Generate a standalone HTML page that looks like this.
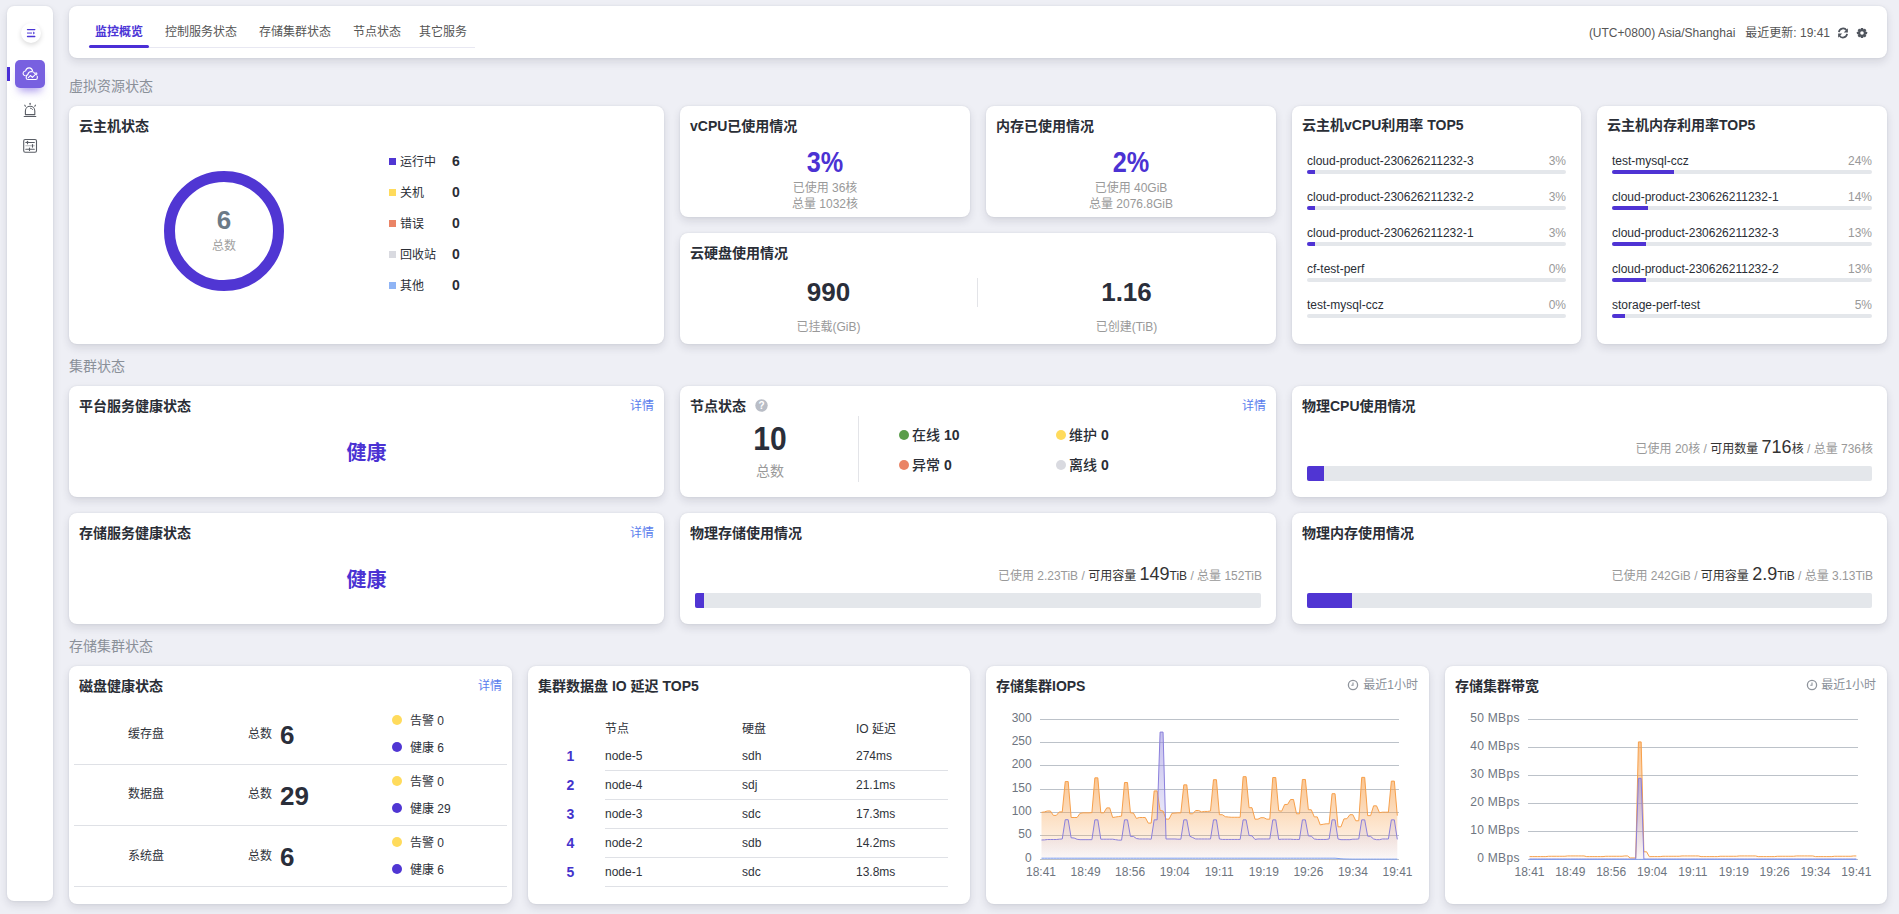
<!DOCTYPE html>
<html lang="zh-CN">
<head>
<meta charset="utf-8">
<title>监控概览</title>
<style>
*{box-sizing:border-box;margin:0;padding:0}
html,body{width:1899px;height:914px;overflow:hidden}
body{background:#eeeff5;font-family:"Liberation Sans","Noto Sans CJK SC",sans-serif;color:#2a2e36;position:relative;font-size:12px}
.abs{position:absolute}
.card{position:absolute;background:#fff;border-radius:8px;box-shadow:0 0 2px rgba(30,35,55,.10),0 4px 8px rgba(30,35,55,.12)}
.ct{position:absolute;left:10px;top:11px;font-size:14px;line-height:18px;font-weight:bold;color:#2a2e36;white-space:nowrap}
.sec{position:absolute;left:69px;font-size:14px;line-height:18px;color:#8a9099;white-space:nowrap}
.more{position:absolute;right:10px;top:12px;font-size:12px;line-height:16px;color:#5a7ded}
.cen{text-align:center}
.g{color:#999}

.lg{left:320px;height:16px;font-size:12px;line-height:16px;color:#2a2e36;white-space:nowrap}
.lg i{position:absolute;left:0;top:4px;width:7px;height:7px}
.lg{padding-left:11px}
.lg b{position:absolute;left:63px;top:-1px;font-size:14px}
.pct{left:0;width:100%;top:40px;font-size:29px;line-height:32px;font-weight:bold;color:#4b32d3;transform:scaleX(.87)}
.sub{left:0;width:100%;font-size:12px;line-height:16px;color:#999;white-space:nowrap}
.big{top:44px;font-size:26px;line-height:30px;font-weight:bold;color:#2a2e3a}
.trow{left:15px;right:15px;height:16px;font-size:12px;line-height:16px;color:#2a2e36;white-space:nowrap}
.trow em{position:absolute;right:0;top:0;font-style:normal;color:#999}
.tbar{left:15px;right:15px;height:4px;border-radius:2px;background:#e4e7eb;overflow:hidden}
.tbar i{display:block;height:4px;background:#4f33d4}

.ok{left:0;width:100%;top:55px;font-size:20px;line-height:24px;font-weight:bold;color:#4b32d3}
.ns{height:18px;font-family:"Liberation Sans","Noto Sans CJK SC Medium","Noto Sans CJK SC",sans-serif;font-size:14px;line-height:18px;color:#2a2e36;white-space:nowrap;padding-left:13px}
.ns i{position:absolute;left:0;top:4px;width:10px;height:10px;border-radius:50%}
.ns b{font-weight:bold;font-size:14px}
.use{right:14px;top:50px;font-size:12px;line-height:22px;color:#333;white-space:nowrap}
.use .bn{font-size:18px}
.pbar{left:15px;right:15px;top:80px;height:15px;border-radius:2px;background:#e4e7eb;overflow:hidden}
.pbar i{display:block;height:15px;background:#5035d3}

.dk{font-size:12px;line-height:16px;color:#2f333b;white-space:nowrap}
.dkn{font-size:26px;line-height:30px;font-weight:bold;color:#2a2e3a}
.dd{font-size:12px;line-height:16px;color:#2f333b;white-space:nowrap;padding-left:18px}
.dd i{position:absolute;left:0;top:2px;width:10px;height:10px;border-radius:50%}
.io{font-size:12px;line-height:16px;color:#2f333b;white-space:nowrap}
.rk{left:30px;width:25px;text-align:center;font-size:14px;line-height:16px;font-weight:bold;color:#4433cc}
.recent{right:11px;top:11px;font-size:12px;line-height:16px;color:#8a9099;white-space:nowrap}
.ax{font-family:"Liberation Sans",sans-serif;font-size:12px;fill:#6e7580}
.tab{top:18px;font-size:12px;line-height:16px;color:#555;white-space:nowrap}
</style>
</head>
<body>
<!-- sidebar -->
<div class="card" style="left:7px;top:6px;width:46px;height:895px;border-radius:7px">
 <div class="abs" style="left:14px;top:17px;width:20px;height:20px;border-radius:50%;background:#fff;box-shadow:0 2px 5px rgba(0,0,0,.15)"></div>
 <svg class="abs" style="left:0;top:0" width="46" height="160" viewBox="7 6 46 160">
  <g stroke-linecap="round">
   <line x1="27.5" y1="29.6" x2="34.8" y2="29.6" stroke="#4b35d6" stroke-width="1.3"/>
   <line x1="27.5" y1="36.5" x2="34.8" y2="36.5" stroke="#4b35d6" stroke-width="1.3"/>
  </g>
  <rect x="27" y="32.2" width="5" height="1.8" fill="#9f92ea"/>
  <path d="M33.2 31.6 L35 33.1 L33.2 34.6 Z" fill="#4b35d6"/>
 </svg>
 <div class="abs" style="left:0;top:61px;width:3px;height:14px;background:#4b2fd6"></div>
 <div class="abs" style="left:8px;top:54px;width:30px;height:28px;border-radius:5px;background:#7860e0;box-shadow:0 7px 8px -4px rgba(100,70,220,.55)"></div>
 <svg class="abs" style="left:0;top:0" width="46" height="160" viewBox="7 6 46 160" fill="none" stroke="#fff" stroke-width="1.1" stroke-linecap="round" stroke-linejoin="round">
  <path d="M25.3 75.8 C23.5 75.6 22.6 73.8 23.4 72.3 C23.9 71.3 24.8 70.9 25.6 71 C26 68.9 27.6 67.8 29.3 67.9 C30.9 68 32.2 69.1 32.5 70.8"/>
  <path d="M28 79.5 L35.7 79.5 C36.7 79.5 37.3 78.8 37.3 77.9 L37.3 76.4 M34.6 73.2 C33.8 72.1 32.7 71.5 31.4 71.5 C29.6 71.6 28.1 72.8 27.8 74.6 C26.8 74.9 26.2 75.8 26.2 76.9 L26.2 77.9 C26.2 78.8 27 79.5 28 79.5"/>
  <path d="M28.4 77.7 L30.4 75.5 L32.4 77.3 L36 73.9"/>
  <path d="M34.8 73.2 L36.9 72.9 L36.6 75" stroke-width="1"/>
 </svg>
 <svg class="abs" style="left:0;top:0" width="46" height="160" viewBox="7 6 46 160" fill="none" stroke="#5a5e66" stroke-width="1.1" stroke-linecap="round">
  <path d="M25.4 114.6 L25.4 111 C25.4 108.2 27.6 106.3 30.1 106.3 C32.6 106.3 34.8 108.2 34.8 111 L34.8 114.6 Z" stroke-linejoin="round"/>
  <line x1="24.2" y1="116.5" x2="35.8" y2="116.5"/>
  <line x1="30.1" y1="103.2" x2="30.1" y2="104.5"/>
  <line x1="24.8" y1="105.2" x2="25.4" y2="106.2"/>
  <line x1="35.4" y1="105.2" x2="34.8" y2="106.2"/>
  <path d="M30.4 108.2 C31.5 108.3 32.3 108.9 32.6 109.6" stroke-width=".9"/>
 </svg>
 <svg class="abs" style="left:0;top:0" width="46" height="160" viewBox="7 6 46 160" fill="none" stroke="#5a5e66" stroke-width="1.1" stroke-linecap="round">
  <rect x="23.7" y="139.5" width="12.8" height="12.8" rx="1.5"/>
  <line x1="25.8" y1="142.5" x2="34.3" y2="142.5"/>
  <line x1="27.5" y1="141.3" x2="27.5" y2="143.7"/>
  <line x1="25.8" y1="145.8" x2="34.3" y2="145.8" stroke="#b5b7bc"/>
  <line x1="32.5" y1="144.5" x2="32.5" y2="147.1"/>
  <line x1="25.8" y1="149.3" x2="34.3" y2="149.3"/>
  <line x1="29.5" y1="148.1" x2="29.5" y2="150.5"/>
 </svg>
</div>

<!-- header -->
<div class="card" style="left:69px;top:6px;width:1818px;height:52px">
 <div class="abs" style="left:20px;top:41px;width:386px;height:1px;background:#e8e8f2"></div>
 <div class="abs" style="left:20px;top:39px;width:60px;height:3px;border-radius:2px;background:#4b2fd6"></div>
 <div class="abs tab" style="left:26px;color:#4b35d6;font-weight:bold">监控概览</div>
 <div class="abs tab" style="left:96px">控制服务状态</div>
 <div class="abs tab" style="left:190px">存储集群状态</div>
 <div class="abs tab" style="left:284px">节点状态</div>
 <div class="abs tab" style="left:350px">其它服务</div>
 <div class="abs" style="right:57px;top:19px;font-size:12px;line-height:16px;color:#555;white-space:nowrap">(UTC+0800) Asia/Shanghai&nbsp;&nbsp;&nbsp;最近更新: 19:41</div>
 <svg class="abs" style="left:1768px;top:21px" width="12" height="12" viewBox="0 0 12 12" fill="none" stroke="#50555e" stroke-width="1.7">
  <path d="M1.9 5.2 A4.2 4.2 0 0 1 9.6 3.4"/><path d="M10.1 6.9 A4.2 4.2 0 0 1 2.4 8.6"/>
  <path d="M10.9 1.3 L10.9 5.4 L6.8 5.4 Z" fill="#50555e" stroke="none"/><path d="M1.1 10.7 L1.1 6.6 L5.2 6.6 Z" fill="#50555e" stroke="none"/>
 </svg>
 <svg class="abs" style="left:1787px;top:21px" width="12" height="12" viewBox="-6 -6 12 12">
  <g fill="#50555e"><circle r="3.9"/>
  <rect x="-1.25" y="-5.1" width="2.5" height="10.2" rx=".4"/>
  <rect x="-1.25" y="-5.1" width="2.5" height="10.2" rx=".4" transform="rotate(45)"/>
  <rect x="-1.25" y="-5.1" width="2.5" height="10.2" rx=".4" transform="rotate(90)"/>
  <rect x="-1.25" y="-5.1" width="2.5" height="10.2" rx=".4" transform="rotate(135)"/></g>
  <circle r="1.8" fill="#fff"/>
 </svg>
</div>

<div class="sec" style="top:77px">虚拟资源状态</div>
<div class="sec" style="top:357px">集群状态</div>
<div class="sec" style="top:637px">存储集群状态</div>

<!-- row 1 -->
<div class="card" style="left:69px;top:106px;width:595px;height:238px"><div class="ct">云主机状态</div>
 <svg class="abs" style="left:94px;top:64px" width="122" height="122" viewBox="0 0 122 122"><circle cx="61" cy="61" r="54.5" fill="none" stroke="#5036d3" stroke-width="11"/></svg>
 <div class="abs cen" style="left:124px;top:99px;width:62px;font-size:26px;line-height:30px;font-weight:bold;color:#6c7a87">6</div>
 <div class="abs cen" style="left:124px;top:132px;width:62px;font-size:12px;line-height:16px;color:#a0a0a0">总数</div>
 <div class="abs lg" style="top:48px"><i style="background:#5036d3"></i>运行中<b>6</b></div>
 <div class="abs lg" style="top:79px"><i style="background:#ffdb5c"></i>关机<b>0</b></div>
 <div class="abs lg" style="top:110px"><i style="background:#ea8466"></i>错误<b>0</b></div>
 <div class="abs lg" style="top:141px"><i style="background:#d9dae0"></i>回收站<b>0</b></div>
 <div class="abs lg" style="top:172px"><i style="background:#8fb4f5"></i>其他<b>0</b></div>
</div>
<div class="card" style="left:680px;top:106px;width:290px;height:111px"><div class="ct">vCPU已使用情况</div>
 <div class="abs cen pct">3%</div>
 <div class="abs cen sub" style="top:74px">已使用 36核</div>
 <div class="abs cen sub" style="top:90px">总量 1032核</div>
</div>
<div class="card" style="left:986px;top:106px;width:290px;height:111px"><div class="ct">内存已使用情况</div>
 <div class="abs cen pct">2%</div>
 <div class="abs cen sub" style="top:74px">已使用 40GiB</div>
 <div class="abs cen sub" style="top:90px">总量 2076.8GiB</div>
</div>
<div class="card" style="left:680px;top:233px;width:596px;height:111px"><div class="ct">云硬盘使用情况</div>
 <div class="abs cen big" style="left:0;width:297px">990</div>
 <div class="abs cen sub" style="left:0;width:297px;top:86px">已挂载(GiB)</div>
 <div class="abs" style="left:297px;top:45px;width:1px;height:29px;background:#e3e4e8"></div>
 <div class="abs cen big" style="left:298px;width:297px">1.16</div>
 <div class="abs cen sub" style="left:298px;width:297px;top:86px">已创建(TiB)</div>
</div>
<div class="card" style="left:1292px;top:106px;width:289px;height:238px"><div class="ct" style="top:10px">云主机vCPU利用率 TOP5</div>
 <div class="abs trow" style="top:47px"><span>cloud-product-230626211232-3</span><em>3%</em></div>
 <div class="abs tbar" style="top:64px"><i style="width:3%"></i></div>
 <div class="abs trow" style="top:83px"><span>cloud-product-230626211232-2</span><em>3%</em></div>
 <div class="abs tbar" style="top:100px"><i style="width:3%"></i></div>
 <div class="abs trow" style="top:119px"><span>cloud-product-230626211232-1</span><em>3%</em></div>
 <div class="abs tbar" style="top:136px"><i style="width:3%"></i></div>
 <div class="abs trow" style="top:155px"><span>cf-test-perf</span><em>0%</em></div>
 <div class="abs tbar" style="top:172px"><i style="width:0%"></i></div>
 <div class="abs trow" style="top:191px"><span>test-mysql-ccz</span><em>0%</em></div>
 <div class="abs tbar" style="top:208px"><i style="width:0%"></i></div>
</div>
<div class="card" style="left:1597px;top:106px;width:290px;height:238px"><div class="ct" style="top:10px">云主机内存利用率TOP5</div>
 <div class="abs trow" style="top:47px"><span>test-mysql-ccz</span><em>24%</em></div>
 <div class="abs tbar" style="top:64px"><i style="width:24%"></i></div>
 <div class="abs trow" style="top:83px"><span>cloud-product-230626211232-1</span><em>14%</em></div>
 <div class="abs tbar" style="top:100px"><i style="width:14%"></i></div>
 <div class="abs trow" style="top:119px"><span>cloud-product-230626211232-3</span><em>13%</em></div>
 <div class="abs tbar" style="top:136px"><i style="width:13%"></i></div>
 <div class="abs trow" style="top:155px"><span>cloud-product-230626211232-2</span><em>13%</em></div>
 <div class="abs tbar" style="top:172px"><i style="width:13%"></i></div>
 <div class="abs trow" style="top:191px"><span>storage-perf-test</span><em>5%</em></div>
 <div class="abs tbar" style="top:208px"><i style="width:5%"></i></div>
</div>

<!-- row 2 -->
<div class="card" style="left:69px;top:386px;width:595px;height:111px"><div class="ct">平台服务健康状态</div><div class="more">详情</div><div class="abs cen ok">健康</div></div>
<div class="card" style="left:69px;top:513px;width:595px;height:111px"><div class="ct">存储服务健康状态</div><div class="more">详情</div><div class="abs cen ok">健康</div></div>
<div class="card" style="left:680px;top:386px;width:596px;height:111px"><div class="ct">节点状态</div><div class="more">详情</div>
 <svg class="abs" style="left:75px;top:13px" width="13" height="13" viewBox="0 0 13 13"><circle cx="6.5" cy="6.5" r="6.2" fill="#b9bdc6"/><text x="6.5" y="10.2" text-anchor="middle" font-family="Liberation Sans, sans-serif" font-size="10" font-weight="bold" fill="#fff">?</text></svg>
 <div class="abs cen" style="left:40px;width:100px;top:35px;font-size:33px;line-height:36px;font-weight:bold;color:#2a2e3a;transform:scaleX(.91)">10</div>
 <div class="abs cen" style="left:40px;width:100px;top:76px;font-size:14px;line-height:18px;color:#999">总数</div>
 <div class="abs" style="left:178px;top:30px;width:1px;height:66px;background:#e3e4e8"></div>
 <div class="abs ns" style="left:219px;top:40px"><i style="background:#5b9d4a"></i>在线 <b>10</b></div>
 <div class="abs ns" style="left:376px;top:40px"><i style="background:#ffdb5c"></i>维护 <b>0</b></div>
 <div class="abs ns" style="left:219px;top:70px"><i style="background:#ea8466"></i>异常 <b>0</b></div>
 <div class="abs ns" style="left:376px;top:70px"><i style="background:#d9dae0"></i>离线 <b>0</b></div>
</div>
<div class="card" style="left:680px;top:513px;width:596px;height:111px"><div class="ct">物理存储使用情况</div>
 <div class="abs use"><span class="g">已使用 2.23TiB / </span>可用容量 <span class="bn">149</span>TiB<span class="g"> / 总量 152TiB</span></div>
 <div class="abs pbar"><i style="width:9px"></i></div>
</div>
<div class="card" style="left:1292px;top:386px;width:595px;height:111px"><div class="ct">物理CPU使用情况</div>
 <div class="abs use"><span class="g">已使用 20核 / </span>可用数量 <span class="bn">716</span>核<span class="g"> / 总量 736核</span></div>
 <div class="abs pbar"><i style="width:17px"></i></div>
</div>
<div class="card" style="left:1292px;top:513px;width:595px;height:111px"><div class="ct">物理内存使用情况</div>
 <div class="abs use"><span class="g">已使用 242GiB / </span>可用容量 <span class="bn">2.9</span>TiB<span class="g"> / 总量 3.13TiB</span></div>
 <div class="abs pbar"><i style="width:45px"></i></div>
</div>

<!-- row 3 -->
<div class="card" style="left:69px;top:666px;width:443px;height:238px"><div class="ct">磁盘健康状态</div><div class="more">详情</div>
 <div class="abs dk" style="left:40px;width:74px;top:60px;text-align:center">缓存盘</div>
 <div class="abs dk" style="left:179px;top:60px">总数</div>
 <div class="abs dkn" style="left:211px;top:54px">6</div>
 <div class="abs dd" style="left:323px;top:47px"><i style="background:#ffdb5c"></i>告警 0</div>
 <div class="abs dd" style="left:323px;top:74px"><i style="background:#5036d3"></i>健康 6</div>
 <div class="abs" style="left:5px;right:5px;top:98px;height:1px;background:#dfe1e6"></div>
 <div class="abs dk" style="left:40px;width:74px;top:120px;text-align:center">数据盘</div>
 <div class="abs dk" style="left:179px;top:120px">总数</div>
 <div class="abs dkn" style="left:211px;top:115px">29</div>
 <div class="abs dd" style="left:323px;top:108px"><i style="background:#ffdb5c"></i>告警 0</div>
 <div class="abs dd" style="left:323px;top:135px"><i style="background:#5036d3"></i>健康 29</div>
 <div class="abs" style="left:5px;right:5px;top:159px;height:1px;background:#dfe1e6"></div>
 <div class="abs dk" style="left:40px;width:74px;top:182px;text-align:center">系统盘</div>
 <div class="abs dk" style="left:179px;top:182px">总数</div>
 <div class="abs dkn" style="left:211px;top:176px">6</div>
 <div class="abs dd" style="left:323px;top:169px"><i style="background:#ffdb5c"></i>告警 0</div>
 <div class="abs dd" style="left:323px;top:196px"><i style="background:#5036d3"></i>健康 6</div>
 <div class="abs" style="left:5px;right:5px;top:220px;height:1px;background:#dfe1e6"></div>
</div>
<div class="card" style="left:528px;top:666px;width:442px;height:238px"><div class="ct">集群数据盘 IO 延迟 TOP5</div>
 <div class="abs io" style="top:55px;left:77px">节点</div><div class="abs io" style="top:55px;left:214px">硬盘</div><div class="abs io" style="top:55px;left:328px">IO 延迟</div>
 <div class="abs rk" style="top:82px">1</div><div class="abs io" style="top:82px;left:77px">node-5</div><div class="abs io" style="top:82px;left:214px">sdh</div><div class="abs io" style="top:82px;left:328px">274ms</div>
 <div class="abs" style="left:77px;width:343px;top:104px;height:1px;background:#dfe1e6"></div>
 <div class="abs rk" style="top:111px">2</div><div class="abs io" style="top:111px;left:77px">node-4</div><div class="abs io" style="top:111px;left:214px">sdj</div><div class="abs io" style="top:111px;left:328px">21.1ms</div>
 <div class="abs" style="left:77px;width:343px;top:133px;height:1px;background:#dfe1e6"></div>
 <div class="abs rk" style="top:140px">3</div><div class="abs io" style="top:140px;left:77px">node-3</div><div class="abs io" style="top:140px;left:214px">sdc</div><div class="abs io" style="top:140px;left:328px">17.3ms</div>
 <div class="abs" style="left:77px;width:343px;top:162px;height:1px;background:#dfe1e6"></div>
 <div class="abs rk" style="top:169px">4</div><div class="abs io" style="top:169px;left:77px">node-2</div><div class="abs io" style="top:169px;left:214px">sdb</div><div class="abs io" style="top:169px;left:328px">14.2ms</div>
 <div class="abs" style="left:77px;width:343px;top:191px;height:1px;background:#dfe1e6"></div>
 <div class="abs rk" style="top:198px">5</div><div class="abs io" style="top:198px;left:77px">node-1</div><div class="abs io" style="top:198px;left:214px">sdc</div><div class="abs io" style="top:198px;left:328px">13.8ms</div>
 <div class="abs" style="left:77px;width:343px;top:220px;height:1px;background:#dfe1e6"></div>
</div>
<div class="card" style="left:986px;top:666px;width:443px;height:238px"><div class="ct">存储集群IOPS</div>
 <svg class="abs" style="left:361px;top:13px" width="12" height="12" viewBox="0 0 12 12" fill="none" stroke="#8f949c" stroke-width="1.3"><circle cx="6" cy="6" r="4.6"/><path d="M6 3.4 L6 6.3 L4.3 6.3" stroke-width="1.1"/></svg><div class="abs recent">最近1小时</div>
<!--CHART-->
<svg class="abs" style="left:0;top:0" width="443" height="238" viewBox="0 0 443 238">
<defs>
<linearGradient id="gi0" gradientUnits="userSpaceOnUse" x1="0" y1="110.67" x2="0" y2="193.50"><stop offset="0" stop-color="#f7a04b" stop-opacity="0.62"/><stop offset="1" stop-color="#f7a04b" stop-opacity="0.03"/></linearGradient>
<linearGradient id="gi1" gradientUnits="userSpaceOnUse" x1="0" y1="66.10" x2="0" y2="193.50"><stop offset="0" stop-color="#8b80dc" stop-opacity="0.5"/><stop offset="1" stop-color="#8b80dc" stop-opacity="0.03"/></linearGradient>
</defs>
<line x1="54" y1="193.5" x2="413" y2="193.5" stroke="#bcc2c9" stroke-width="1"/>
<line x1="54" y1="169.5" x2="413" y2="169.5" stroke="#bcc2c9" stroke-width="1"/>
<line x1="54" y1="146.5" x2="413" y2="146.5" stroke="#bcc2c9" stroke-width="1"/>
<line x1="54" y1="123.5" x2="413" y2="123.5" stroke="#bcc2c9" stroke-width="1"/>
<line x1="54" y1="99.5" x2="413" y2="99.5" stroke="#bcc2c9" stroke-width="1"/>
<line x1="54" y1="76.5" x2="413" y2="76.5" stroke="#bcc2c9" stroke-width="1"/>
<line x1="54" y1="53.5" x2="413" y2="53.5" stroke="#bcc2c9" stroke-width="1"/>
<text x="45.7" y="196" text-anchor="end" class="ax">0</text>
<text x="45.7" y="172" text-anchor="end" class="ax">50</text>
<text x="45.7" y="149" text-anchor="end" class="ax">100</text>
<text x="45.7" y="126" text-anchor="end" class="ax">150</text>
<text x="45.7" y="102" text-anchor="end" class="ax">200</text>
<text x="45.7" y="79" text-anchor="end" class="ax">250</text>
<text x="45.7" y="56" text-anchor="end" class="ax">300</text>
<text x="55.0" y="210.0" text-anchor="middle" class="ax">18:41</text>
<text x="99.6" y="210.0" text-anchor="middle" class="ax">18:49</text>
<text x="144.1" y="210.0" text-anchor="middle" class="ax">18:56</text>
<text x="188.7" y="210.0" text-anchor="middle" class="ax">19:04</text>
<text x="233.2" y="210.0" text-anchor="middle" class="ax">19:11</text>
<text x="277.8" y="210.0" text-anchor="middle" class="ax">19:19</text>
<text x="322.4" y="210.0" text-anchor="middle" class="ax">19:26</text>
<text x="366.9" y="210.0" text-anchor="middle" class="ax">19:34</text>
<text x="411.5" y="210.0" text-anchor="middle" class="ax">19:41</text>
<path d="M55.50 146.37 L58.47 145.90 L61.43 144.97 L64.39 144.97 L67.36 149.40 L70.33 149.40 L73.29 145.90 L76.25 145.90 L79.22 115.57 L82.19 115.57 L85.15 151.50 L88.12 151.50 L91.08 151.50 L94.05 147.30 L97.01 146.83 L99.97 146.83 L102.94 146.83 L105.91 146.60 L108.87 111.83 L111.84 111.83 L114.80 146.83 L117.77 146.83 L120.73 141.89 L123.70 141.89 L126.66 151.50 L129.62 151.03 L132.59 150.57 L135.56 150.10 L138.52 116.50 L141.49 116.50 L144.45 146.83 L147.42 147.02 L150.38 152.43 L153.35 151.50 L156.31 151.50 L159.28 151.50 L162.24 157.10 L165.21 157.10 L168.17 124.90 L171.13 124.90 L174.10 144.50 L177.06 144.97 L180.03 153.13 L183.00 153.13 L185.96 147.30 L188.93 147.07 L191.89 146.83 L194.86 146.83 L197.82 118.83 L200.79 118.83 L203.75 147.77 L206.72 147.77 L209.68 144.50 L212.65 144.50 L215.61 145.90 L218.58 145.43 L221.54 145.43 L224.51 144.97 L227.47 113.70 L230.44 113.70 L233.40 148.70 L236.37 148.70 L239.33 150.71 L242.30 151.03 L245.26 151.27 L248.23 151.27 L251.19 151.27 L254.16 151.27 L257.12 110.67 L260.09 110.67 L263.05 141.70 L266.01 141.70 L268.98 153.18 L271.95 153.18 L274.91 151.69 L277.88 151.69 L280.84 153.18 L283.81 153.18 L286.77 111.51 L289.74 111.51 L292.70 144.69 L295.67 145.20 L298.63 138.53 L301.60 138.43 L304.56 133.53 L307.53 133.53 L310.49 147.77 L313.46 147.77 L316.42 113.47 L319.39 113.47 L322.35 143.66 L325.32 143.80 L328.28 150.89 L331.25 150.89 L334.21 158.83 L337.18 158.27 L340.14 157.80 L343.11 157.80 L346.07 127.70 L349.04 127.70 L352.00 160.83 L354.97 160.83 L357.93 152.90 L360.90 152.71 L363.86 148.70 L366.83 148.70 L369.79 154.77 L372.76 154.77 L375.72 111.37 L378.69 111.37 L381.65 149.63 L384.62 149.63 L387.58 139.83 L390.55 139.83 L393.51 146.69 L396.48 146.18 L399.44 146.18 L402.41 146.18 L405.37 115.10 L408.34 115.10 L411.30 149.63 L411.30 193.50 L55.50 193.50 Z" fill="url(#gi0)"/>
<path d="M55.50 173.99 L58.47 173.90 L61.43 173.53 L64.39 173.53 L67.36 173.53 L70.33 173.53 L73.29 173.20 L76.25 172.97 L79.22 153.69 L82.19 153.69 L85.15 171.80 L88.12 172.03 L91.08 173.29 L94.05 173.67 L97.01 173.67 L99.97 173.67 L102.94 173.67 L105.91 173.67 L108.87 153.83 L111.84 153.83 L114.80 173.20 L117.77 173.20 L120.73 173.20 L123.70 173.20 L126.66 173.20 L129.62 173.67 L132.59 174.13 L135.56 174.13 L138.52 153.83 L141.49 153.83 L144.45 170.40 L147.42 170.40 L150.38 172.50 L153.35 172.97 L156.31 172.97 L159.28 172.97 L162.24 172.97 L165.21 173.20 L168.17 153.83 L171.13 153.83 L174.10 66.10 L177.06 66.10 L180.03 172.97 L183.00 172.97 L185.96 172.97 L188.93 172.97 L191.89 173.20 L194.86 173.20 L197.82 153.83 L200.79 153.83 L203.75 170.17 L206.72 171.57 L209.68 172.97 L212.65 172.97 L215.61 172.97 L218.58 172.97 L221.54 172.97 L224.51 172.97 L227.47 153.83 L230.44 153.83 L233.40 172.97 L236.37 173.43 L239.33 173.43 L242.30 173.43 L245.26 173.43 L248.23 173.43 L251.19 173.43 L254.16 173.43 L257.12 153.83 L260.09 153.83 L263.05 169.47 L266.01 169.79 L268.98 173.43 L271.95 172.97 L274.91 172.97 L277.88 172.97 L280.84 172.97 L283.81 172.97 L286.77 153.83 L289.74 153.83 L292.70 173.43 L295.67 173.20 L298.63 173.20 L301.60 173.20 L304.56 173.20 L307.53 173.43 L310.49 173.43 L313.46 173.43 L316.42 153.83 L319.39 153.83 L322.35 169.89 L325.32 170.17 L328.28 172.97 L331.25 173.43 L334.21 173.43 L337.18 173.43 L340.14 173.43 L343.11 172.97 L346.07 153.83 L349.04 153.83 L352.00 172.97 L354.97 173.67 L357.93 173.67 L360.90 173.67 L363.86 173.67 L366.83 173.20 L369.79 173.20 L372.76 172.97 L375.72 153.83 L378.69 153.83 L381.65 170.17 L384.62 170.35 L387.58 172.97 L390.55 173.67 L393.51 173.67 L396.48 172.97 L399.44 172.97 L402.41 172.97 L405.37 153.83 L408.34 153.83 L411.30 173.43 L411.30 193.50 L55.50 193.50 Z" fill="url(#gi1)"/>
<path d="M55.50 146.37 L58.47 145.90 L61.43 144.97 L64.39 144.97 L67.36 149.40 L70.33 149.40 L73.29 145.90 L76.25 145.90 L79.22 115.57 L82.19 115.57 L85.15 151.50 L88.12 151.50 L91.08 151.50 L94.05 147.30 L97.01 146.83 L99.97 146.83 L102.94 146.83 L105.91 146.60 L108.87 111.83 L111.84 111.83 L114.80 146.83 L117.77 146.83 L120.73 141.89 L123.70 141.89 L126.66 151.50 L129.62 151.03 L132.59 150.57 L135.56 150.10 L138.52 116.50 L141.49 116.50 L144.45 146.83 L147.42 147.02 L150.38 152.43 L153.35 151.50 L156.31 151.50 L159.28 151.50 L162.24 157.10 L165.21 157.10 L168.17 124.90 L171.13 124.90 L174.10 144.50 L177.06 144.97 L180.03 153.13 L183.00 153.13 L185.96 147.30 L188.93 147.07 L191.89 146.83 L194.86 146.83 L197.82 118.83 L200.79 118.83 L203.75 147.77 L206.72 147.77 L209.68 144.50 L212.65 144.50 L215.61 145.90 L218.58 145.43 L221.54 145.43 L224.51 144.97 L227.47 113.70 L230.44 113.70 L233.40 148.70 L236.37 148.70 L239.33 150.71 L242.30 151.03 L245.26 151.27 L248.23 151.27 L251.19 151.27 L254.16 151.27 L257.12 110.67 L260.09 110.67 L263.05 141.70 L266.01 141.70 L268.98 153.18 L271.95 153.18 L274.91 151.69 L277.88 151.69 L280.84 153.18 L283.81 153.18 L286.77 111.51 L289.74 111.51 L292.70 144.69 L295.67 145.20 L298.63 138.53 L301.60 138.43 L304.56 133.53 L307.53 133.53 L310.49 147.77 L313.46 147.77 L316.42 113.47 L319.39 113.47 L322.35 143.66 L325.32 143.80 L328.28 150.89 L331.25 150.89 L334.21 158.83 L337.18 158.27 L340.14 157.80 L343.11 157.80 L346.07 127.70 L349.04 127.70 L352.00 160.83 L354.97 160.83 L357.93 152.90 L360.90 152.71 L363.86 148.70 L366.83 148.70 L369.79 154.77 L372.76 154.77 L375.72 111.37 L378.69 111.37 L381.65 149.63 L384.62 149.63 L387.58 139.83 L390.55 139.83 L393.51 146.69 L396.48 146.18 L399.44 146.18 L402.41 146.18 L405.37 115.10 L408.34 115.10 L411.30 149.63" fill="none" stroke="#f7a04b" stroke-width="1" stroke-linejoin="round"/>
<path d="M55.50 173.99 L58.47 173.90 L61.43 173.53 L64.39 173.53 L67.36 173.53 L70.33 173.53 L73.29 173.20 L76.25 172.97 L79.22 153.69 L82.19 153.69 L85.15 171.80 L88.12 172.03 L91.08 173.29 L94.05 173.67 L97.01 173.67 L99.97 173.67 L102.94 173.67 L105.91 173.67 L108.87 153.83 L111.84 153.83 L114.80 173.20 L117.77 173.20 L120.73 173.20 L123.70 173.20 L126.66 173.20 L129.62 173.67 L132.59 174.13 L135.56 174.13 L138.52 153.83 L141.49 153.83 L144.45 170.40 L147.42 170.40 L150.38 172.50 L153.35 172.97 L156.31 172.97 L159.28 172.97 L162.24 172.97 L165.21 173.20 L168.17 153.83 L171.13 153.83 L174.10 66.10 L177.06 66.10 L180.03 172.97 L183.00 172.97 L185.96 172.97 L188.93 172.97 L191.89 173.20 L194.86 173.20 L197.82 153.83 L200.79 153.83 L203.75 170.17 L206.72 171.57 L209.68 172.97 L212.65 172.97 L215.61 172.97 L218.58 172.97 L221.54 172.97 L224.51 172.97 L227.47 153.83 L230.44 153.83 L233.40 172.97 L236.37 173.43 L239.33 173.43 L242.30 173.43 L245.26 173.43 L248.23 173.43 L251.19 173.43 L254.16 173.43 L257.12 153.83 L260.09 153.83 L263.05 169.47 L266.01 169.79 L268.98 173.43 L271.95 172.97 L274.91 172.97 L277.88 172.97 L280.84 172.97 L283.81 172.97 L286.77 153.83 L289.74 153.83 L292.70 173.43 L295.67 173.20 L298.63 173.20 L301.60 173.20 L304.56 173.20 L307.53 173.43 L310.49 173.43 L313.46 173.43 L316.42 153.83 L319.39 153.83 L322.35 169.89 L325.32 170.17 L328.28 172.97 L331.25 173.43 L334.21 173.43 L337.18 173.43 L340.14 173.43 L343.11 172.97 L346.07 153.83 L349.04 153.83 L352.00 172.97 L354.97 173.67 L357.93 173.67 L360.90 173.67 L363.86 173.67 L366.83 173.20 L369.79 173.20 L372.76 172.97 L375.72 153.83 L378.69 153.83 L381.65 170.17 L384.62 170.35 L387.58 172.97 L390.55 173.67 L393.51 173.67 L396.48 172.97 L399.44 172.97 L402.41 172.97 L405.37 153.83 L408.34 153.83 L411.30 173.43" fill="none" stroke="#8b80dc" stroke-width="1" stroke-linejoin="round"/>
<path d="M55.50 192.19 L58.47 192.19 L61.43 192.19 L64.39 192.19 L67.36 192.19 L70.33 192.19 L73.29 192.19 L76.25 192.19 L79.22 192.19 L82.19 192.19 L85.15 192.19 L88.12 192.19 L91.08 192.19 L94.05 192.19 L97.01 192.19 L99.97 192.19 L102.94 192.19 L105.91 192.19 L108.87 192.19 L111.84 192.19 L114.80 192.19 L117.77 192.19 L120.73 192.19 L123.70 192.19 L126.66 192.19 L129.62 192.19 L132.59 192.19 L135.56 192.19 L138.52 192.19 L141.49 192.19 L144.45 192.19 L147.42 192.19 L150.38 192.19 L153.35 192.19 L156.31 192.19 L159.28 192.19 L162.24 192.19 L165.21 192.19 L168.17 192.19 L171.13 192.19 L174.10 192.19 L177.06 192.19 L180.03 192.19 L183.00 192.19 L185.96 192.19 L188.93 192.19 L191.89 192.19 L194.86 192.19 L197.82 192.19 L200.79 192.19 L203.75 192.19 L206.72 192.19 L209.68 192.19 L212.65 192.19 L215.61 192.19 L218.58 192.19 L221.54 192.19 L224.51 192.19 L227.47 192.19 L230.44 192.19 L233.40 192.19 L236.37 192.19 L239.33 192.19 L242.30 192.19 L245.26 192.19 L248.23 192.19 L251.19 192.19 L254.16 192.19 L257.12 192.19 L260.09 192.19 L263.05 192.19 L266.01 192.19 L268.98 192.19 L271.95 192.19 L274.91 192.19 L277.88 192.19 L280.84 192.19 L283.81 192.19 L286.77 192.19 L289.74 192.19 L292.70 192.19 L295.67 192.19 L298.63 192.19 L301.60 192.19 L304.56 192.19 L307.53 192.19 L310.49 192.19 L313.46 192.19 L316.42 192.19 L319.39 192.19 L322.35 192.19 L325.32 192.19 L328.28 192.19 L331.25 192.19 L334.21 192.19 L337.18 192.19 L340.14 192.19 L343.11 192.19 L346.07 192.19 L349.04 192.19 L352.00 192.47 L354.97 192.75 L357.93 192.94 L360.90 193.03 L363.86 193.08 L366.83 193.13 L369.79 193.13 L372.76 193.13 L375.72 193.13 L378.69 193.13 L381.65 193.13 L384.62 193.13 L387.58 193.13 L390.55 193.13 L393.51 193.13 L396.48 193.13 L399.44 193.13 L402.41 193.13 L405.37 193.13 L408.34 193.13 L411.30 193.13" fill="none" stroke="#7c9ff2" stroke-width="1" stroke-linejoin="round"/>
</svg>
<!--/CHART-->
</div>
<div class="card" style="left:1445px;top:666px;width:442px;height:238px"><div class="ct">存储集群带宽</div>
 <svg class="abs" style="left:361px;top:13px" width="12" height="12" viewBox="0 0 12 12" fill="none" stroke="#8f949c" stroke-width="1.3"><circle cx="6" cy="6" r="4.6"/><path d="M6 3.4 L6 6.3 L4.3 6.3" stroke-width="1.1"/></svg><div class="abs recent">最近1小时</div>
<!--CHART-->
<svg class="abs" style="left:0;top:0" width="443" height="238" viewBox="0 0 443 238">
<defs>
<linearGradient id="gb0" gradientUnits="userSpaceOnUse" x1="0" y1="75.90" x2="0" y2="193.50"><stop offset="0" stop-color="#f7a04b" stop-opacity="0.62"/><stop offset="1" stop-color="#f7a04b" stop-opacity="0.03"/></linearGradient>
<linearGradient id="gb1" gradientUnits="userSpaceOnUse" x1="0" y1="112.30" x2="0" y2="193.50"><stop offset="0" stop-color="#8b80dc" stop-opacity="0.5"/><stop offset="1" stop-color="#8b80dc" stop-opacity="0.03"/></linearGradient>
</defs>
<line x1="83" y1="193.5" x2="413" y2="193.5" stroke="#bcc2c9" stroke-width="1"/>
<line x1="83" y1="165.5" x2="413" y2="165.5" stroke="#bcc2c9" stroke-width="1"/>
<line x1="83" y1="137.5" x2="413" y2="137.5" stroke="#bcc2c9" stroke-width="1"/>
<line x1="83" y1="109.5" x2="413" y2="109.5" stroke="#bcc2c9" stroke-width="1"/>
<line x1="83" y1="81.5" x2="413" y2="81.5" stroke="#bcc2c9" stroke-width="1"/>
<line x1="83" y1="53.5" x2="413" y2="53.5" stroke="#bcc2c9" stroke-width="1"/>
<text x="74.8" y="196" text-anchor="end" class="ax" style="letter-spacing:.33px">0 MBps</text>
<text x="74.8" y="168" text-anchor="end" class="ax" style="letter-spacing:.33px">10 MBps</text>
<text x="74.8" y="140" text-anchor="end" class="ax" style="letter-spacing:.33px">20 MBps</text>
<text x="74.8" y="112" text-anchor="end" class="ax" style="letter-spacing:.33px">30 MBps</text>
<text x="74.8" y="84" text-anchor="end" class="ax" style="letter-spacing:.33px">40 MBps</text>
<text x="74.8" y="56" text-anchor="end" class="ax" style="letter-spacing:.33px">50 MBps</text>
<text x="84.5" y="210.0" text-anchor="middle" class="ax">18:41</text>
<text x="125.3" y="210.0" text-anchor="middle" class="ax">18:49</text>
<text x="166.2" y="210.0" text-anchor="middle" class="ax">18:56</text>
<text x="207.1" y="210.0" text-anchor="middle" class="ax">19:04</text>
<text x="247.9" y="210.0" text-anchor="middle" class="ax">19:11</text>
<text x="288.8" y="210.0" text-anchor="middle" class="ax">19:19</text>
<text x="329.6" y="210.0" text-anchor="middle" class="ax">19:26</text>
<text x="370.4" y="210.0" text-anchor="middle" class="ax">19:34</text>
<text x="411.3" y="210.0" text-anchor="middle" class="ax">19:41</text>
<path d="M84.50 190.62 L87.22 190.62 L89.95 190.62 L92.67 190.62 L95.39 190.62 L98.12 190.62 L100.84 190.62 L103.56 190.28 L106.29 190.28 L109.01 190.28 L111.73 190.28 L114.46 190.28 L117.18 190.28 L119.90 190.28 L122.63 189.94 L125.35 189.94 L128.07 189.94 L130.80 189.94 L133.52 189.94 L136.24 189.94 L138.97 189.94 L141.69 190.62 L144.41 190.62 L147.14 190.62 L149.86 190.62 L152.58 190.62 L155.31 190.62 L158.03 190.62 L160.75 190.28 L163.48 190.28 L166.20 190.28 L168.92 190.28 L171.65 190.28 L174.37 190.28 L177.09 190.28 L179.82 189.94 L182.54 189.94 L185.26 191.96 L187.99 191.96 L190.71 191.96 L193.43 75.90 L196.16 75.90 L198.88 185.80 L201.60 185.80 L204.33 190.70 L207.05 190.62 L209.77 190.62 L212.50 190.62 L215.22 190.62 L217.94 190.28 L220.67 190.28 L223.39 190.28 L226.11 190.28 L228.84 190.28 L231.56 190.28 L234.28 190.28 L237.01 189.94 L239.73 189.94 L242.45 189.94 L245.18 189.94 L247.90 189.94 L250.62 189.94 L253.35 189.94 L256.07 190.62 L258.79 190.62 L261.52 190.62 L264.24 190.62 L266.96 190.62 L269.69 190.62 L272.41 190.62 L275.13 190.28 L277.86 190.28 L280.58 190.28 L283.30 190.28 L286.03 190.28 L288.75 190.28 L291.47 190.28 L294.20 189.94 L296.92 189.94 L299.64 189.94 L302.37 189.94 L305.09 189.94 L307.81 189.94 L310.54 189.94 L313.26 190.62 L315.98 190.62 L318.71 190.62 L321.43 190.62 L324.15 190.62 L326.88 190.62 L329.60 190.62 L332.32 190.28 L335.05 190.28 L337.77 190.28 L340.49 190.28 L343.22 190.28 L345.94 190.28 L348.66 190.28 L351.39 189.94 L354.11 189.94 L356.83 189.94 L359.56 189.94 L362.28 189.94 L365.00 189.94 L367.73 189.94 L370.45 190.62 L373.17 190.62 L375.90 190.62 L378.62 190.62 L381.34 190.62 L384.07 190.62 L386.79 190.62 L389.51 190.28 L392.24 190.28 L394.96 190.28 L397.68 190.28 L400.41 190.28 L403.13 190.28 L405.85 190.28 L408.58 189.94 L411.30 189.94 L411.30 193.50 L84.50 193.50 Z" fill="url(#gb0)"/>
<path d="M84.50 193.08 L87.22 193.08 L89.95 193.08 L92.67 193.08 L95.39 193.08 L98.12 193.08 L100.84 193.08 L103.56 193.08 L106.29 193.08 L109.01 193.08 L111.73 193.08 L114.46 193.08 L117.18 193.08 L119.90 193.08 L122.63 193.08 L125.35 193.08 L128.07 193.08 L130.80 193.08 L133.52 193.08 L136.24 193.08 L138.97 193.08 L141.69 193.08 L144.41 193.08 L147.14 193.08 L149.86 193.08 L152.58 193.08 L155.31 193.08 L158.03 193.08 L160.75 193.08 L163.48 193.08 L166.20 193.08 L168.92 193.08 L171.65 193.08 L174.37 193.08 L177.09 193.08 L179.82 193.08 L182.54 193.08 L185.26 193.08 L187.99 193.08 L190.71 193.08 L193.43 112.30 L196.16 112.30 L198.88 193.08 L201.60 193.08 L204.33 193.08 L207.05 193.08 L209.77 193.08 L212.50 193.08 L215.22 193.08 L217.94 193.08 L220.67 193.08 L223.39 193.08 L226.11 193.08 L228.84 193.08 L231.56 193.08 L234.28 193.08 L237.01 193.08 L239.73 193.08 L242.45 193.08 L245.18 193.08 L247.90 193.08 L250.62 193.08 L253.35 193.08 L256.07 193.08 L258.79 193.08 L261.52 193.08 L264.24 193.08 L266.96 193.08 L269.69 193.08 L272.41 193.08 L275.13 193.08 L277.86 193.08 L280.58 193.08 L283.30 193.08 L286.03 193.08 L288.75 193.08 L291.47 193.08 L294.20 193.08 L296.92 193.08 L299.64 193.08 L302.37 193.08 L305.09 193.08 L307.81 193.08 L310.54 193.08 L313.26 193.08 L315.98 193.08 L318.71 193.08 L321.43 193.08 L324.15 193.08 L326.88 193.08 L329.60 193.08 L332.32 193.08 L335.05 193.08 L337.77 193.08 L340.49 193.08 L343.22 193.08 L345.94 193.08 L348.66 193.08 L351.39 193.08 L354.11 193.08 L356.83 193.08 L359.56 193.08 L362.28 193.08 L365.00 193.08 L367.73 193.08 L370.45 193.08 L373.17 193.08 L375.90 193.08 L378.62 193.08 L381.34 193.08 L384.07 193.08 L386.79 193.08 L389.51 193.08 L392.24 193.08 L394.96 193.08 L397.68 193.08 L400.41 193.08 L403.13 193.08 L405.85 193.08 L408.58 193.08 L411.30 193.08 L411.30 193.50 L84.50 193.50 Z" fill="url(#gb1)"/>
<path d="M84.50 190.62 L87.22 190.62 L89.95 190.62 L92.67 190.62 L95.39 190.62 L98.12 190.62 L100.84 190.62 L103.56 190.28 L106.29 190.28 L109.01 190.28 L111.73 190.28 L114.46 190.28 L117.18 190.28 L119.90 190.28 L122.63 189.94 L125.35 189.94 L128.07 189.94 L130.80 189.94 L133.52 189.94 L136.24 189.94 L138.97 189.94 L141.69 190.62 L144.41 190.62 L147.14 190.62 L149.86 190.62 L152.58 190.62 L155.31 190.62 L158.03 190.62 L160.75 190.28 L163.48 190.28 L166.20 190.28 L168.92 190.28 L171.65 190.28 L174.37 190.28 L177.09 190.28 L179.82 189.94 L182.54 189.94 L185.26 191.96 L187.99 191.96 L190.71 191.96 L193.43 75.90 L196.16 75.90 L198.88 185.80 L201.60 185.80 L204.33 190.70 L207.05 190.62 L209.77 190.62 L212.50 190.62 L215.22 190.62 L217.94 190.28 L220.67 190.28 L223.39 190.28 L226.11 190.28 L228.84 190.28 L231.56 190.28 L234.28 190.28 L237.01 189.94 L239.73 189.94 L242.45 189.94 L245.18 189.94 L247.90 189.94 L250.62 189.94 L253.35 189.94 L256.07 190.62 L258.79 190.62 L261.52 190.62 L264.24 190.62 L266.96 190.62 L269.69 190.62 L272.41 190.62 L275.13 190.28 L277.86 190.28 L280.58 190.28 L283.30 190.28 L286.03 190.28 L288.75 190.28 L291.47 190.28 L294.20 189.94 L296.92 189.94 L299.64 189.94 L302.37 189.94 L305.09 189.94 L307.81 189.94 L310.54 189.94 L313.26 190.62 L315.98 190.62 L318.71 190.62 L321.43 190.62 L324.15 190.62 L326.88 190.62 L329.60 190.62 L332.32 190.28 L335.05 190.28 L337.77 190.28 L340.49 190.28 L343.22 190.28 L345.94 190.28 L348.66 190.28 L351.39 189.94 L354.11 189.94 L356.83 189.94 L359.56 189.94 L362.28 189.94 L365.00 189.94 L367.73 189.94 L370.45 190.62 L373.17 190.62 L375.90 190.62 L378.62 190.62 L381.34 190.62 L384.07 190.62 L386.79 190.62 L389.51 190.28 L392.24 190.28 L394.96 190.28 L397.68 190.28 L400.41 190.28 L403.13 190.28 L405.85 190.28 L408.58 189.94 L411.30 189.94" fill="none" stroke="#f7a04b" stroke-width="1" stroke-linejoin="round"/>
<path d="M84.50 193.08 L87.22 193.08 L89.95 193.08 L92.67 193.08 L95.39 193.08 L98.12 193.08 L100.84 193.08 L103.56 193.08 L106.29 193.08 L109.01 193.08 L111.73 193.08 L114.46 193.08 L117.18 193.08 L119.90 193.08 L122.63 193.08 L125.35 193.08 L128.07 193.08 L130.80 193.08 L133.52 193.08 L136.24 193.08 L138.97 193.08 L141.69 193.08 L144.41 193.08 L147.14 193.08 L149.86 193.08 L152.58 193.08 L155.31 193.08 L158.03 193.08 L160.75 193.08 L163.48 193.08 L166.20 193.08 L168.92 193.08 L171.65 193.08 L174.37 193.08 L177.09 193.08 L179.82 193.08 L182.54 193.08 L185.26 193.08 L187.99 193.08 L190.71 193.08 L193.43 112.30 L196.16 112.30 L198.88 193.08 L201.60 193.08 L204.33 193.08 L207.05 193.08 L209.77 193.08 L212.50 193.08 L215.22 193.08 L217.94 193.08 L220.67 193.08 L223.39 193.08 L226.11 193.08 L228.84 193.08 L231.56 193.08 L234.28 193.08 L237.01 193.08 L239.73 193.08 L242.45 193.08 L245.18 193.08 L247.90 193.08 L250.62 193.08 L253.35 193.08 L256.07 193.08 L258.79 193.08 L261.52 193.08 L264.24 193.08 L266.96 193.08 L269.69 193.08 L272.41 193.08 L275.13 193.08 L277.86 193.08 L280.58 193.08 L283.30 193.08 L286.03 193.08 L288.75 193.08 L291.47 193.08 L294.20 193.08 L296.92 193.08 L299.64 193.08 L302.37 193.08 L305.09 193.08 L307.81 193.08 L310.54 193.08 L313.26 193.08 L315.98 193.08 L318.71 193.08 L321.43 193.08 L324.15 193.08 L326.88 193.08 L329.60 193.08 L332.32 193.08 L335.05 193.08 L337.77 193.08 L340.49 193.08 L343.22 193.08 L345.94 193.08 L348.66 193.08 L351.39 193.08 L354.11 193.08 L356.83 193.08 L359.56 193.08 L362.28 193.08 L365.00 193.08 L367.73 193.08 L370.45 193.08 L373.17 193.08 L375.90 193.08 L378.62 193.08 L381.34 193.08 L384.07 193.08 L386.79 193.08 L389.51 193.08 L392.24 193.08 L394.96 193.08 L397.68 193.08 L400.41 193.08 L403.13 193.08 L405.85 193.08 L408.58 193.08 L411.30 193.08" fill="none" stroke="#8b80dc" stroke-width="1" stroke-linejoin="round"/>
<path d="M84.50 193.36 L87.22 193.36 L89.95 193.36 L92.67 193.36 L95.39 193.36 L98.12 193.36 L100.84 193.36 L103.56 193.36 L106.29 193.36 L109.01 193.36 L111.73 193.36 L114.46 193.36 L117.18 193.36 L119.90 193.36 L122.63 193.36 L125.35 193.36 L128.07 193.36 L130.80 193.36 L133.52 193.36 L136.24 193.36 L138.97 193.36 L141.69 193.36 L144.41 193.36 L147.14 193.36 L149.86 193.36 L152.58 193.36 L155.31 193.36 L158.03 193.36 L160.75 193.36 L163.48 193.36 L166.20 193.36 L168.92 193.36 L171.65 193.36 L174.37 193.36 L177.09 193.36 L179.82 193.36 L182.54 193.36 L185.26 193.36 L187.99 193.36 L190.71 193.36 L193.43 193.36 L196.16 193.36 L198.88 193.36 L201.60 193.36 L204.33 193.36 L207.05 193.36 L209.77 193.36 L212.50 193.36 L215.22 193.36 L217.94 193.36 L220.67 193.36 L223.39 193.36 L226.11 193.36 L228.84 193.36 L231.56 193.36 L234.28 193.36 L237.01 193.36 L239.73 193.36 L242.45 193.36 L245.18 193.36 L247.90 193.36 L250.62 193.36 L253.35 193.36 L256.07 193.36 L258.79 193.36 L261.52 193.36 L264.24 193.36 L266.96 193.36 L269.69 193.36 L272.41 193.36 L275.13 193.36 L277.86 193.36 L280.58 193.36 L283.30 193.36 L286.03 193.36 L288.75 193.36 L291.47 193.36 L294.20 193.36 L296.92 193.36 L299.64 193.36 L302.37 193.36 L305.09 193.36 L307.81 193.36 L310.54 193.36 L313.26 193.36 L315.98 193.36 L318.71 193.36 L321.43 193.36 L324.15 193.36 L326.88 193.36 L329.60 193.36 L332.32 193.36 L335.05 193.36 L337.77 193.36 L340.49 193.36 L343.22 193.36 L345.94 193.36 L348.66 193.36 L351.39 193.36 L354.11 193.36 L356.83 193.36 L359.56 193.36 L362.28 193.36 L365.00 193.36 L367.73 193.36 L370.45 193.36 L373.17 193.36 L375.90 193.36 L378.62 193.36 L381.34 193.36 L384.07 193.36 L386.79 193.36 L389.51 193.36 L392.24 193.36 L394.96 193.36 L397.68 193.36 L400.41 193.36 L403.13 193.36 L405.85 193.36 L408.58 193.36 L411.30 193.36" fill="none" stroke="#7c9ff2" stroke-width="1" stroke-linejoin="round"/>
</svg>
<!--/CHART-->
</div>
</body>
</html>
